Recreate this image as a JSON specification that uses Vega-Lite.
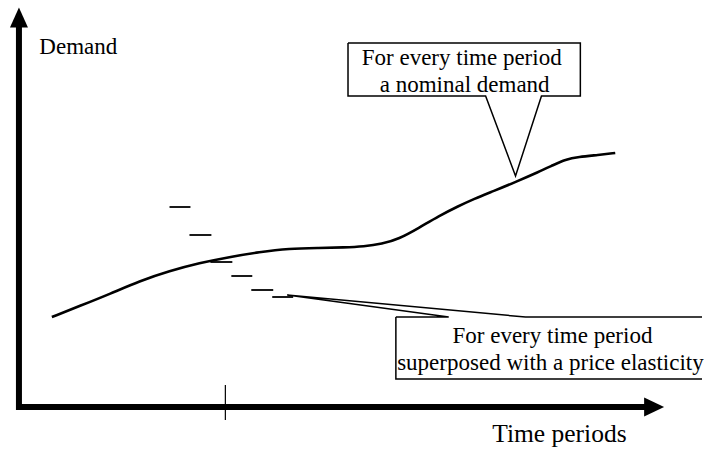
{
  "$schema": "https://vega.github.io/schema/vega-lite/v6.json",
  "width": 704,
  "height": 450,
  "padding": 0,
  "autosize": {"type": "fit", "contains": "padding"},
  "background": "white",
  "config": {"view": {"stroke": null}},
  "datasets": {
    "paths": [
      {"id": "curve", "kind": "curve", "ord": 1, "x": 52, "y": 317},
      {"id": "curve", "kind": "curve", "ord": 2, "x": 80, "y": 306},
      {"id": "curve", "kind": "curve", "ord": 3, "x": 110, "y": 294},
      {"id": "curve", "kind": "curve", "ord": 4, "x": 140, "y": 281},
      {"id": "curve", "kind": "curve", "ord": 5, "x": 170, "y": 271},
      {"id": "curve", "kind": "curve", "ord": 6, "x": 200, "y": 263},
      {"id": "curve", "kind": "curve", "ord": 7, "x": 230, "y": 257},
      {"id": "curve", "kind": "curve", "ord": 8, "x": 260, "y": 252},
      {"id": "curve", "kind": "curve", "ord": 9, "x": 290, "y": 248.5},
      {"id": "curve", "kind": "curve", "ord": 10, "x": 320, "y": 248},
      {"id": "curve", "kind": "curve", "ord": 11, "x": 345, "y": 247.5},
      {"id": "curve", "kind": "curve", "ord": 12, "x": 365, "y": 246.5},
      {"id": "curve", "kind": "curve", "ord": 13, "x": 383, "y": 244},
      {"id": "curve", "kind": "curve", "ord": 14, "x": 400, "y": 239},
      {"id": "curve", "kind": "curve", "ord": 15, "x": 420, "y": 228},
      {"id": "curve", "kind": "curve", "ord": 16, "x": 440, "y": 216},
      {"id": "curve", "kind": "curve", "ord": 17, "x": 460, "y": 206},
      {"id": "curve", "kind": "curve", "ord": 18, "x": 475, "y": 199},
      {"id": "curve", "kind": "curve", "ord": 19, "x": 495, "y": 191},
      {"id": "curve", "kind": "curve", "ord": 20, "x": 517, "y": 182},
      {"id": "curve", "kind": "curve", "ord": 21, "x": 540, "y": 172},
      {"id": "curve", "kind": "curve", "ord": 22, "x": 555, "y": 165},
      {"id": "curve", "kind": "curve", "ord": 23, "x": 567, "y": 159.5},
      {"id": "curve", "kind": "curve", "ord": 24, "x": 580, "y": 157},
      {"id": "curve", "kind": "curve", "ord": 25, "x": 600, "y": 155},
      {"id": "curve", "kind": "curve", "ord": 26, "x": 617, "y": 153},

      {"id": "axes", "kind": "axis", "ord": 1, "x": 19, "y": 24},
      {"id": "axes", "kind": "axis", "ord": 2, "x": 19, "y": 407},
      {"id": "axes", "kind": "axis", "ord": 3, "x": 650, "y": 407},

      {"id": "tick", "kind": "tick", "ord": 1, "x": 226, "y": 385},
      {"id": "tick", "kind": "tick", "ord": 2, "x": 226, "y": 420},

      {"id": "d1", "kind": "dash", "ord": 1, "x": 170, "y": 207},
      {"id": "d1", "kind": "dash", "ord": 2, "x": 191, "y": 207},
      {"id": "d2", "kind": "dash", "ord": 1, "x": 190, "y": 235},
      {"id": "d2", "kind": "dash", "ord": 2, "x": 212, "y": 235},
      {"id": "d3", "kind": "dash", "ord": 1, "x": 211, "y": 262},
      {"id": "d3", "kind": "dash", "ord": 2, "x": 233, "y": 262},
      {"id": "d4", "kind": "dash", "ord": 1, "x": 232, "y": 276},
      {"id": "d4", "kind": "dash", "ord": 2, "x": 253, "y": 276},
      {"id": "d5", "kind": "dash", "ord": 1, "x": 252, "y": 290},
      {"id": "d5", "kind": "dash", "ord": 2, "x": 274, "y": 290},
      {"id": "d6", "kind": "dash", "ord": 1, "x": 273, "y": 297},
      {"id": "d6", "kind": "dash", "ord": 2, "x": 294, "y": 297},

      {"id": "c1", "kind": "callout", "ord": 1, "x": 349, "y": 43},
      {"id": "c1", "kind": "callout", "ord": 2, "x": 582, "y": 43},
      {"id": "c1", "kind": "callout", "ord": 3, "x": 582, "y": 96},
      {"id": "c1", "kind": "callout", "ord": 4, "x": 543, "y": 96},
      {"id": "c1", "kind": "callout", "ord": 5, "x": 517, "y": 176},
      {"id": "c1", "kind": "callout", "ord": 6, "x": 487, "y": 96},
      {"id": "c1", "kind": "callout", "ord": 7, "x": 349, "y": 96},
      {"id": "c1", "kind": "callout", "ord": 8, "x": 349, "y": 43},

      {"id": "c2", "kind": "callout", "ord": 1, "x": 397, "y": 317},
      {"id": "c2", "kind": "callout", "ord": 2, "x": 450, "y": 317},
      {"id": "c2", "kind": "callout", "ord": 3, "x": 288, "y": 295},
      {"id": "c2", "kind": "callout", "ord": 4, "x": 527, "y": 317},
      {"id": "c2", "kind": "callout", "ord": 5, "x": 708, "y": 317},
      {"id": "c2", "kind": "callout", "ord": 6, "x": 708, "y": 379},
      {"id": "c2", "kind": "callout", "ord": 7, "x": 397, "y": 379},
      {"id": "c2", "kind": "callout", "ord": 8, "x": 397, "y": 317}
    ],
    "heads": [
      {"dir": "up", "x": 19, "y": 17.5},
      {"dir": "right", "x": 656, "y": 407}
    ],
    "labels": [
      {"group": "small", "text": "Demand", "x": 78.5, "y": 54},
      {"group": "small", "text": "For every time period", "x": 463, "y": 65},
      {"group": "small", "text": "a nominal demand", "x": 466, "y": 92},
      {"group": "small", "text": "For every time period", "x": 554, "y": 343},
      {"group": "small", "text": "superposed with a price elasticity", "x": 552, "y": 370},
      {"group": "big", "text": "Time periods", "x": 561, "y": 442}
    ]
  },
  "encoding": {
    "x": {"field": "x", "type": "quantitative", "scale": {"domain": [0, 704], "nice": false, "zero": false}, "axis": null},
    "y": {"field": "y", "type": "quantitative", "scale": {"domain": [0, 450], "nice": false, "zero": false, "reverse": true}, "axis": null}
  },
  "layer": [
    {
      "data": {"name": "paths"},
      "transform": [{"filter": "datum.kind === 'callout'"}],
      "mark": {"type": "line", "color": "black", "strokeWidth": 1.5, "strokeJoin": "miter", "clip": true},
      "encoding": {"detail": {"field": "id"}, "order": {"field": "ord", "type": "quantitative"}}
    },
    {
      "data": {"name": "paths"},
      "transform": [{"filter": "datum.kind === 'curve'"}],
      "mark": {"type": "line", "color": "black", "strokeWidth": 2.6, "interpolate": "basis"},
      "encoding": {"detail": {"field": "id"}, "order": {"field": "ord", "type": "quantitative"}}
    },
    {
      "data": {"name": "paths"},
      "transform": [{"filter": "datum.kind === 'dash'"}],
      "mark": {"type": "line", "color": "black", "strokeWidth": 1.8},
      "encoding": {"detail": {"field": "id"}, "order": {"field": "ord", "type": "quantitative"}}
    },
    {
      "data": {"name": "paths"},
      "transform": [{"filter": "datum.kind === 'tick'"}],
      "mark": {"type": "line", "color": "black", "strokeWidth": 1.2},
      "encoding": {"detail": {"field": "id"}, "order": {"field": "ord", "type": "quantitative"}}
    },
    {
      "data": {"name": "paths"},
      "transform": [{"filter": "datum.kind === 'axis'"}],
      "mark": {"type": "line", "color": "black", "strokeWidth": 6, "strokeJoin": "miter", "strokeCap": "butt"},
      "encoding": {"detail": {"field": "id"}, "order": {"field": "ord", "type": "quantitative"}}
    },
    {
      "data": {"name": "heads"},
      "transform": [{"filter": "datum.dir === 'up'"}],
      "mark": {"type": "point", "filled": true, "color": "black", "opacity": 1, "size": 400, "shape": "M0,-1L-0.9,1L0.9,1Z"}
    },
    {
      "data": {"name": "heads"},
      "transform": [{"filter": "datum.dir === 'right'"}],
      "mark": {"type": "point", "filled": true, "color": "black", "opacity": 1, "size": 400, "shape": "M1,0L-1,-0.95L-1,0.95Z"}
    },
    {
      "data": {"name": "labels"},
      "transform": [{"filter": "datum.group === 'small'"}],
      "mark": {"type": "text", "font": "'Liberation Serif', 'DejaVu Serif', serif", "fontSize": 23, "baseline": "alphabetic", "align": "center", "color": "black"},
      "encoding": {"text": {"field": "text"}}
    },
    {
      "data": {"name": "labels"},
      "transform": [{"filter": "datum.group === 'big'"}],
      "mark": {"type": "text", "font": "'Liberation Serif', 'DejaVu Serif', serif", "fontSize": 25.5, "baseline": "alphabetic", "align": "center", "color": "black"},
      "encoding": {"text": {"field": "text"}}
    }
  ]
}
